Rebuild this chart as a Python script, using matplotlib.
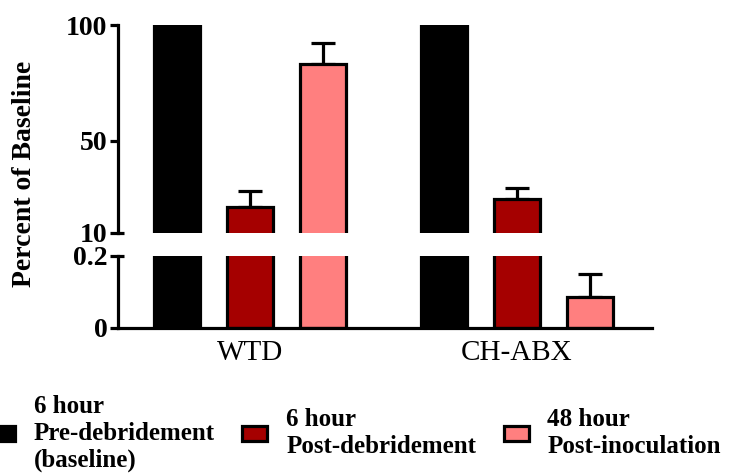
import matplotlib.pyplot as plt
import numpy as np

groups = ['WTD', 'CH-ABX']
series = ['6 hour\nPre-debridement\n(baseline)', '6 hour\nPost-debridement', '48 hour\nPost-inoculation']
colors = ['#000000', '#A50000', '#FF7F7F']

pre_debridement = [100, 100]
post_debridement = [21.1, 24.6]
post_inoculation = [83.2, 0.085]
err_pre = [0, 0]
err_post_deb = [7.0, 4.7]
err_post_inoc = [9.0, 0.064]

values = [pre_debridement, post_debridement, post_inoculation]
errors = [err_pre, err_post_deb, err_post_inoc]

serif = 'Liberation Serif'

fig = plt.figure(figsize=(7.3, 4.73), dpi=100)
ax_top = fig.add_axes([0.1616, 0.5074, 0.7315, 0.4397])
ax_bot = fig.add_axes([0.1616, 0.3066, 0.7315, 0.1522])

x = np.arange(len(groups))
offset = 0.273
width = 0.172
lw = 2.3

handles = []
for ax in (ax_top, ax_bot):
    for i, (vals, errs) in enumerate(zip(values, errors)):
        pos = x + (i - 1) * offset
        bars = ax.bar(pos, vals, width, color=colors[i], edgecolor='black',
                      linewidth=lw, label=series[i], zorder=2)
        if ax is ax_top:
            handles.append(bars)
        if any(e > 0 for e in errs):
            ax.errorbar(pos, vals, yerr=[np.zeros(len(errs)), errs], fmt='none',
                        ecolor='black', elinewidth=lw, capsize=8.5, capthick=lw, zorder=1)
    ax.set_xlim(-0.494, 1.506)
    ax.spines['top'].set_visible(False)
    ax.spines['right'].set_visible(False)
    ax.spines['left'].set_linewidth(lw)
    ax.spines['bottom'].set_linewidth(lw)
    ax.tick_params(axis='y', width=lw, length=6, pad=1.5)

ax_top.set_ylim(10, 100)
ax_top.set_yticks([10, 50, 100])
ax_top.spines['bottom'].set_visible(False)
ax_top.set_xticks([])

ax_bot.set_ylim(0, 0.2)
ax_bot.set_yticks([0, 0.2])
ax_bot.set_yticklabels(['0', '0.2'])
ax_bot.set_xticks(x)
ax_bot.set_xticklabels(groups, fontfamily=serif, fontsize=21)
ax_bot.tick_params(axis='x', length=0, pad=9)

for ax in (ax_top, ax_bot):
    for lab in ax.get_yticklabels():
        lab.set_fontfamily(serif)
        lab.set_fontweight('bold')
        lab.set_fontsize(20)

# break marks
ax_top.plot([0, 0.011], [0, 0], transform=ax_top.transAxes, color='black',
            linewidth=lw, clip_on=False, solid_capstyle='butt')
ax_bot.plot([0, 0.011], [1, 1], transform=ax_bot.transAxes, color='black',
            linewidth=lw, clip_on=False, solid_capstyle='butt')

fig.text(25 / 730, 1 - 174 / 473, 'Percent of Baseline', rotation=90,
         ha='center', va='center', fontfamily=serif, fontweight='bold', fontsize=20)

fig.legend(handles, series, loc='center', bbox_to_anchor=(0.487, 0.084), ncol=3,
           frameon=False, prop={'family': serif, 'weight': 'bold', 'size': 18},
           handlelength=1.0, handleheight=0.55, handletextpad=0.75,
           columnspacing=1.1, borderpad=0, labelspacing=0)

plt.savefig('out.png', dpi=100)
